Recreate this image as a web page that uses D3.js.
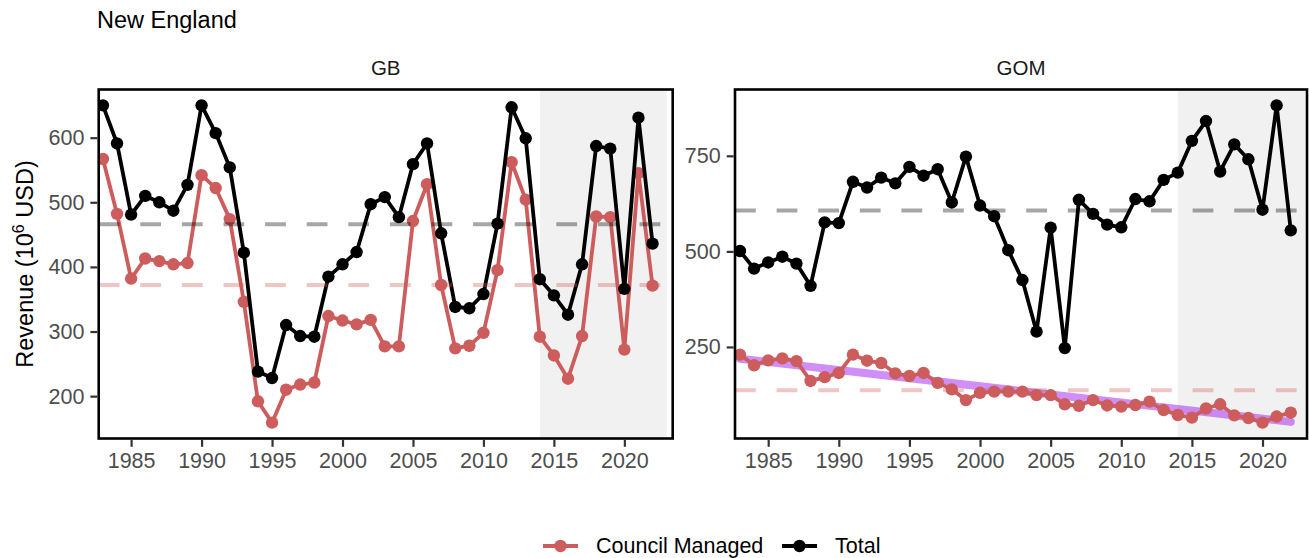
<!DOCTYPE html>
<html>
<head>
<meta charset="utf-8">
<script src="https://cdn.jsdelivr.net/npm/d3@7"></script>
<style>
  body { margin: 0; background: #fff; }
  svg { display: block; font-family: "Liberation Sans", Arial, sans-serif; }
</style>
</head>
<body>
<svg id="chart" width="1309" height="558"></svg>
<script>
// ---- data ----
const years = [1983, 1984, 1985, 1986, 1987, 1988, 1989, 1990, 1991, 1992,
  1993, 1994, 1995, 1996, 1997, 1998, 1999, 2000, 2001, 2002,
  2003, 2004, 2005, 2006, 2007, 2008, 2009, 2010, 2011, 2012,
  2013, 2014, 2015, 2016, 2017, 2018, 2019, 2020, 2021, 2022]

const gbTotal = [650, 591, 481, 510, 500, 487, 527, 650, 607, 554,
  422, 238, 228, 310, 293, 292, 385, 404, 423, 497,
  508, 477, 559, 591, 452, 338, 336, 358, 467, 647,
  599, 381, 356, 326, 404, 587, 583, 366, 631, 436]
const gbCouncil = [567, 482, 382, 413, 409, 404, 406, 542, 522, 474,
  346, 192, 159, 210, 218, 221, 324, 317, 311, 318,
  277, 277, 471, 528, 372, 274, 278, 298, 395, 562,
  504, 292, 263, 227, 293, 478, 477, 272, 545, 371]

const gomTotal = [501, 455, 471, 486, 468, 410, 576, 574, 682, 667,
  693, 678, 721, 698, 715, 628, 748, 620, 592, 503,
  425, 290, 562, 247, 635, 598, 570, 563, 637, 631,
  687, 706, 789, 841, 709, 780, 741, 609, 882, 555]
const gomCouncil = [230, 202, 215, 220, 213, 161, 171, 182, 230, 214,
  208, 181, 174, 182, 156, 139, 111, 130, 133, 133,
  133, 124, 124, 100, 96, 111, 97, 94, 98, 107,
  85, 72, 65, 89, 100, 71, 64, 52, 68, 78]

const gbMeans = {total: 466, council: 372}
const gomMeans = {total: 607, council: 137}
const gomTrend = [{year: 1983, value: 219}, {year: 2022, value: 54}]

const shadeYears = [2014, 2023]
const xTicks = [1985, 1990, 1995, 2000, 2005, 2010, 2015, 2020]
const gbYTicks = [200, 300, 400, 500, 600]
const gomYTicks = [250, 500, 750]

const seriesNames = ['Council Managed', 'Total']
const seriesColours = ['#cd5c5c', '#000000']

// ---- layout ----
const svg = d3.select('#chart')
const panelTop = 89.5, panelBottom = 438.5

const panels = [
  {name: 'GB', x0: 98.7, x1: 672.7, dom: [1982.7, 2023.43], total: gbTotal, council: gbCouncil,
    means: gbMeans, yTicks: gbYTicks, trend: null},
  {name: 'GOM', x0: 735, x1: 1307, dom: [1982.65, 2023.15], total: gomTotal, council: gomCouncil,
    means: gomMeans, yTicks: gomYTicks, trend: gomTrend}
]

svg.append('text')
  .attr('x', 97).attr('y', 28)
  .attr('font-size', 23.5)
  .attr('fill', '#000')
  .text('New England')

panels.forEach((p, pi) => {
  const x = d3.scaleLinear().domain(p.dom).range([p.x0, p.x1])

  const allVals = p.total.concat(p.council)
  const ext = d3.extent(allVals)
  const pad = (ext[1] - ext[0]) * 0.05
  const y = d3.scaleLinear().domain([ext[0] - pad, ext[1] + pad]).range([panelBottom, panelTop])

  const clipId = 'clip' + pi
  svg.append('defs').append('clipPath').attr('id', clipId)
    .append('rect')
    .attr('x', p.x0).attr('y', panelTop)
    .attr('width', p.x1 - p.x0).attr('height', panelBottom - panelTop)

  const g = svg.append('g').attr('clip-path', `url(#${clipId})`)

  // shaded recent period
  g.append('rect')
    .attr('x', x(shadeYears[0]))
    .attr('y', panelTop)
    .attr('width', x(shadeYears[1]) - x(shadeYears[0]))
    .attr('height', panelBottom - panelTop)
    .attr('fill', '#f1f1f1')

  // trend
  if (p.trend) {
    g.append('path')
      .datum(p.trend)
      .attr('d', d3.line().x(d => x(d.year)).y(d => y(d.value)))
      .attr('fill', 'none')
      .attr('stroke', '#a020f0')
      .attr('stroke-opacity', 0.5)
      .attr('stroke-width', 8)
      .attr('stroke-linecap', 'round')
  }

  const series = [p.council, p.total]
  series.forEach((vals, si) => {
    const line = d3.line()
      .x((d, i) => x(years[i]))
      .y(d => y(d))
    g.append('path')
      .datum(vals)
      .attr('d', line)
      .attr('fill', 'none')
      .attr('stroke', seriesColours[si])
      .attr('stroke-width', 3.8)
      .attr('stroke-linejoin', 'round')
    g.selectAll('.pt' + si)
      .data(vals)
      .join('circle')
      .attr('class', 'pt' + si)
      .attr('cx', (d, i) => x(years[i]))
      .attr('cy', d => y(d))
      .attr('r', 6.2)
      .attr('fill', seriesColours[si])
  })

  // mean lines
  const meanLines = [
    {v: p.means.council, c: '#cd5c5c', o: 0.35},
    {v: p.means.total, c: '#000000', o: 0.35}
  ]
  meanLines.forEach(m => {
    g.append('line')
      .attr('x1', p.x0).attr('x2', p.x1)
      .attr('y1', y(m.v)).attr('y2', y(m.v))
      .attr('stroke', m.c)
      .attr('stroke-opacity', m.o)
      .attr('stroke-width', 4)
      .attr('stroke-dasharray', '20.8,20.8')
  })

  // panel border
  svg.append('rect')
    .attr('x', p.x0).attr('y', panelTop)
    .attr('width', p.x1 - p.x0).attr('height', panelBottom - panelTop)
    .attr('fill', 'none')
    .attr('stroke', '#000')
    .attr('stroke-width', 2.6)

  // strip label
  svg.append('text')
    .attr('x', (p.x0 + p.x1) / 2).attr('y', 75)
    .attr('text-anchor', 'middle')
    .attr('font-size', 20.5)
    .attr('fill', '#1a1a1a')
    .text(p.name)

  // axes
  const xAxis = d3.axisBottom(x).tickValues(xTicks).tickFormat(d3.format('d'))
    .tickSize(7).tickPadding(6)
  const xg = svg.append('g')
    .attr('transform', `translate(0,${panelBottom + 1.3})`)
    .call(xAxis)
  xg.select('.domain').remove()
  xg.selectAll('line').attr('stroke', '#333').attr('stroke-width', 2.2)
  xg.selectAll('text').attr('font-size', 21.5).attr('fill', '#4d4d4d')
    .attr('font-family', '"Liberation Sans", Arial, sans-serif')

  const yAxis = d3.axisLeft(y).tickValues(p.yTicks).tickSize(7).tickPadding(6)
  const yg = svg.append('g')
    .attr('transform', `translate(${p.x0 - 1.3},0)`)
    .call(yAxis)
  yg.select('.domain').remove()
  yg.selectAll('line').attr('stroke', '#333').attr('stroke-width', 2.2)
  yg.selectAll('text').attr('font-size', 21.5).attr('fill', '#4d4d4d')
    .attr('font-family', '"Liberation Sans", Arial, sans-serif')
})

// y axis title
const yTitle = svg.append('text')
  .attr('transform', `translate(33,${(panelTop + panelBottom) / 2}) rotate(-90)`)
  .attr('text-anchor', 'middle')
  .attr('font-size', 23.5)
  .attr('fill', '#000')
yTitle.append('tspan').text('Revenue (10')
yTitle.append('tspan').attr('font-size', 16).attr('dy', -9.5).text('6')
yTitle.append('tspan').attr('dy', 9.5).text(' USD)')

// legend
const legendItems = [
  {label: seriesNames[0], colour: seriesColours[0], x: 543},
  {label: seriesNames[1], colour: seriesColours[1], x: 782}
]
const lg = svg.append('g')
legendItems.forEach(it => {
  lg.append('line')
    .attr('x1', it.x).attr('x2', it.x + 35)
    .attr('y1', 546).attr('y2', 546)
    .attr('stroke', it.colour).attr('stroke-width', 3.8)
  lg.append('circle')
    .attr('cx', it.x + 17.5).attr('cy', 546).attr('r', 6.2)
    .attr('fill', it.colour)
  lg.append('text')
    .attr('x', it.x + 53).attr('y', 553)
    .attr('font-size', 21.5)
    .attr('fill', '#000')
    .text(it.label)
})
</script>
</body>
</html>
